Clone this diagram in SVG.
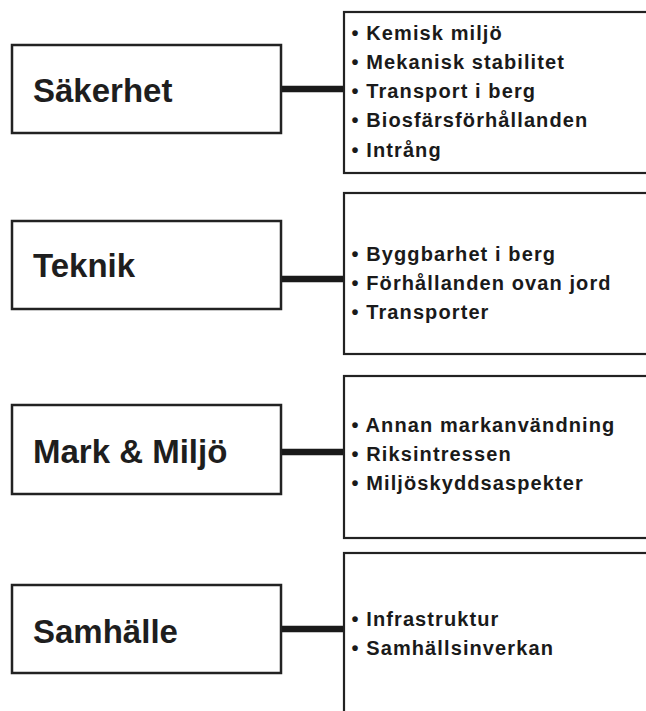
<svg xmlns="http://www.w3.org/2000/svg" width="646" height="711" viewBox="0 0 646 711">
<style>
.box{fill:#fff;stroke:#222;stroke-width:2.5}
.list{fill:#fff;stroke:#222;stroke-width:2.2}
.conn{stroke:#1a1a1a;stroke-width:6.5;fill:none}
.title{font-family:"Liberation Sans",Arial,sans-serif;font-weight:bold;font-size:33px;fill:#1e1e1e}
.item{font-family:"Liberation Sans",Arial,sans-serif;font-weight:bold;font-size:20px;fill:#1a1a1a;letter-spacing:1.1px}
</style>
<rect width="646" height="711" fill="#fff"/>
<g id="connectors">
<line class="conn" x1="281" y1="89" x2="344" y2="89"/>
<line class="conn" x1="281" y1="279" x2="344" y2="279"/>
<line class="conn" x1="281" y1="452" x2="344" y2="452"/>
<line class="conn" x1="281" y1="629" x2="344" y2="629"/>
</g>
<g id="sakerhet">
<rect class="box" x="12" y="45" width="269" height="88"/>
<text class="title" x="33" y="102">Säkerhet</text>
</g>
<g id="sakerhet-list">
<rect class="list" x="344" y="12" width="320" height="161"/>
<text class="item" x="351.5" y="39.5">• Kemisk miljö</text>
<text class="item" x="351.5" y="68.8">• Mekanisk stabilitet</text>
<text class="item" x="351.5" y="98">• Transport i berg</text>
<text class="item" x="351.5" y="127.3">• Biosfärsförhållanden</text>
<text class="item" x="351.5" y="156.6">• Intrång</text>
</g>
<g id="teknik">
<rect class="box" x="12" y="221" width="269" height="88"/>
<text class="title" x="33" y="277">Teknik</text>
</g>
<g id="teknik-list">
<rect class="list" x="344" y="193" width="320" height="161"/>
<text class="item" x="351.5" y="261">• Byggbarhet i berg</text>
<text class="item" x="351.5" y="290">• Förhållanden ovan jord</text>
<text class="item" x="351.5" y="318.5">• Transporter</text>
</g>
<g id="mark-miljo">
<rect class="box" x="12" y="405" width="269" height="89"/>
<text class="title" x="33" y="463">Mark &amp; Miljö</text>
</g>
<g id="mark-miljo-list">
<rect class="list" x="344" y="376" width="320" height="162"/>
<text class="item" x="351.5" y="432">• Annan markanvändning</text>
<text class="item" x="351.5" y="461">• Riksintressen</text>
<text class="item" x="351.5" y="489.5">• Miljöskyddsaspekter</text>
</g>
<g id="samhalle">
<rect class="box" x="12" y="585" width="269" height="88"/>
<text class="title" x="33" y="643">Samhälle</text>
</g>
<g id="samhalle-list">
<rect class="list" x="344" y="553" width="320" height="180"/>
<text class="item" x="351.5" y="626">• Infrastruktur</text>
<text class="item" x="351.5" y="655">• Samhällsinverkan</text>
</g>
</svg>
